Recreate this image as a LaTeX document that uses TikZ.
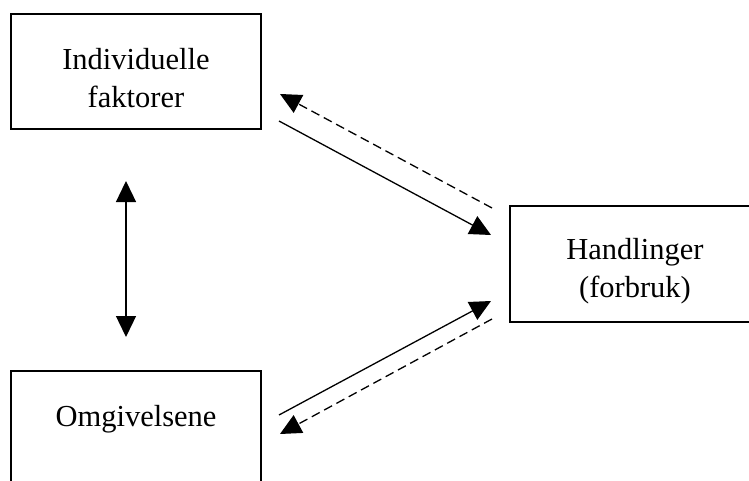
\documentclass[tikz,border=0pt]{standalone}
\usepackage{fontspec}
\setmainfont{Liberation Serif}
\usetikzlibrary{arrows.meta}
\begin{document}
\begin{tikzpicture}[x=1pt,y=-1pt,
  box/.style={draw=black,line width=1.6pt,rectangle,inner sep=0pt,
    minimum width=250pt},
  boxtext/.style={font=\fontsize{30.5}{38}\selectfont,align=center},
  link/.style={line width=1.3pt,-{Triangle[length=21pt,width=20pt]}},
  backlink/.style={link,dash pattern=on 9pt off 5pt},
  both/.style={line width=1.3pt,{Triangle[length=21pt,width=20pt]}-{Triangle[length=21pt,width=20pt]}}]
  \useasboundingbox (0,0) rectangle (749,481);
  \clip (0,0) rectangle (749,481);

  % the three factors
  \node[box,minimum height=115pt,
        label={[boxtext,yshift=-7pt]center:Individuelle\\faktorer}] (ind) at (136,71.5) {};
  \node[box,minimum height=116pt,
        label={[boxtext,yshift=-7pt]center:Handlinger\\(forbruk)}] (hand) at (635,264) {};
  \node[box,minimum height=124pt,
        label={[boxtext,yshift=14pt]center:Omgivelsene}] (omg) at (136,433) {};

  % connector end points
  \coordinate (a1) at (279,121);
  \coordinate (a2) at (491,235);
  \coordinate (b1) at (492,208);
  \coordinate (b2) at (280,94);
  \coordinate (c1) at (279,415);
  \coordinate (c2) at (491,301);
  \coordinate (d1) at (492,319);
  \coordinate (d2) at (280,434);
  \coordinate (v1) at (126,181);
  \coordinate (v2) at (126,337);

  \draw[link] (a1) -- (a2);
  \draw[backlink] (b1) -- (b2);
  \draw[link] (c1) -- (c2);
  \draw[backlink] (d1) -- (d2);
  \draw[both] (v1) -- (v2);
\end{tikzpicture}
\end{document}
